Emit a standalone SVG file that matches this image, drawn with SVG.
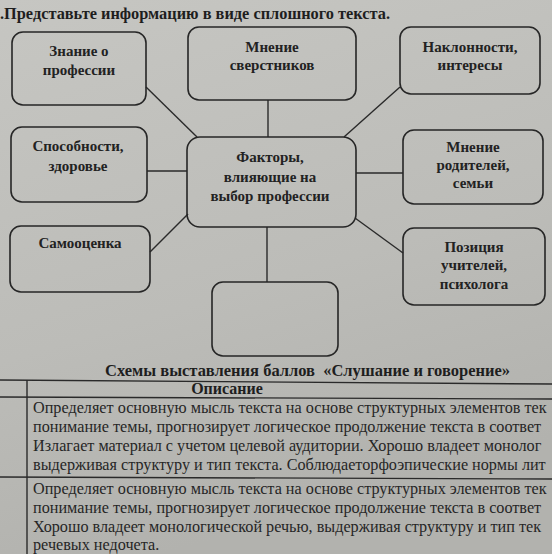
<svg xmlns="http://www.w3.org/2000/svg" width="552" height="554" viewBox="0 0 552 554">
<defs>
<linearGradient id="paper" x1="0" y1="0" x2="0.3" y2="1">
<stop offset="0" stop-color="#c6c6c2"/>
<stop offset="0.6" stop-color="#bcbcb8"/>
<stop offset="1" stop-color="#b2b2ae"/>
</linearGradient>
<style>
.box{fill:none;stroke:#262626;stroke-width:1.6}
.lbl{font-family:"Liberation Serif","Times New Roman",serif;font-weight:bold;font-size:15px;fill:#222;text-anchor:middle}
.con line{stroke:#2a2a2a;stroke-width:1.4}
.tl{stroke:#2a2a2a;stroke-width:1.4}
.body{font-family:"Liberation Serif","Times New Roman",serif;font-size:16.2px;fill:#262626}
.hd{font-family:"Liberation Serif","Times New Roman",serif;font-weight:bold;font-size:16px;fill:#1e1e1e}
</style>
</defs>
<rect width="552" height="554" fill="url(#paper)"/>
<text class="hd" x="0" y="19" textLength="390" lengthAdjust="spacingAndGlyphs">.Представьте информацию в виде сплошного текста.</text>

<g id="connectors" class="con">
<line x1="146" y1="87" x2="197" y2="137"/>
<line x1="268" y1="100" x2="268" y2="137"/>
<line x1="400" y1="87" x2="344" y2="137"/>
<line x1="147" y1="171" x2="187" y2="171"/>
<line x1="356" y1="173" x2="403" y2="173"/>
<line x1="150" y1="252" x2="188" y2="214"/>
<line x1="355" y1="218" x2="403" y2="253"/>
<line x1="267" y1="227" x2="267" y2="282"/>
</g>

<g id="n-znanie"><rect class="box" x="12" y="32" width="134" height="73" rx="11"/>
<text class="lbl" x="79" y="56">Знание о</text><text class="lbl" x="79" y="75">профессии</text></g>
<g id="n-sverstniki"><rect class="box" x="188" y="27" width="168" height="73" rx="11"/>
<text class="lbl" x="272" y="52">Мнение</text><text class="lbl" x="272" y="70">сверстников</text></g>
<g id="n-naklonnosti"><rect class="box" x="400" y="27" width="140" height="67" rx="11"/>
<text class="lbl" x="470" y="52">Наклонности,</text><text class="lbl" x="470" y="70">интересы</text></g>
<g id="n-sposobnosti"><rect class="box" x="11" y="127" width="136" height="75" rx="11"/>
<text class="lbl" x="78" y="151">Способности,</text><text class="lbl" x="78" y="171">здоровье</text></g>
<g id="n-factors"><rect class="box" x="187" y="137" width="169" height="90" rx="13"/>
<text class="lbl" x="270" y="162">Факторы,</text><text class="lbl" x="270" y="182">влияющие на</text><text class="lbl" x="270" y="201">выбор профессии</text></g>
<g id="n-roditeli"><rect class="box" x="403" y="130" width="140" height="74" rx="11"/>
<text class="lbl" x="473" y="152">Мнение</text><text class="lbl" x="473" y="170">родителей,</text><text class="lbl" x="473" y="188">семьи</text></g>
<g id="n-samootsenka"><rect class="box" x="10" y="226" width="140" height="66" rx="11"/>
<text class="lbl" x="80" y="248">Самооценка</text></g>
<g id="n-pozitsiya"><rect class="box" x="403" y="228" width="142" height="77" rx="11"/>
<text class="lbl" x="474" y="252">Позиция</text><text class="lbl" x="474" y="270">учителей,</text><text class="lbl" x="474" y="289">психолога</text></g>
<g id="n-empty"><rect class="box" x="212" y="282" width="126" height="74" rx="11"/></g>

<text class="hd" x="105" y="376" textLength="405" lengthAdjust="spacingAndGlyphs" xml:space="preserve">Схемы выставления баллов  «Слушание и говорение»</text>

<g id="table">
<line class="tl" x1="0" y1="380" x2="552" y2="384"/>
<line class="tl" x1="0" y1="397" x2="552" y2="399"/>
<line class="tl" x1="0" y1="477" x2="552" y2="479"/>
<line class="tl" x1="27" y1="380" x2="27" y2="554"/>
<text class="hd" x="227" y="394" text-anchor="middle">Описание</text>
<text class="body" x="33" y="413">Определяет основную мысль текста на основе структурных элементов тек</text>
<text class="body" x="33" y="432">понимание темы, прогнозирует логическое продолжение текста в соответ</text>
<text class="body" x="33" y="451">Излагает материал с учетом целевой аудитории. Хорошо владеет монолог</text>
<text class="body" x="33" y="470">выдерживая структуру и тип текста. Соблюдаеторфоэпические нормы лит</text>
<text class="body" x="33" y="494">Определяет основную мысль текста на основе структурных элементов тек</text>
<text class="body" x="33" y="513">понимание темы, прогнозирует логическое продолжение текста в соответ</text>
<text class="body" x="33" y="532">Хорошо владеет монологической речью, выдерживая структуру и тип тек</text>
<text class="body" x="33" y="550">речевых недочета.</text>
</g>
</svg>
